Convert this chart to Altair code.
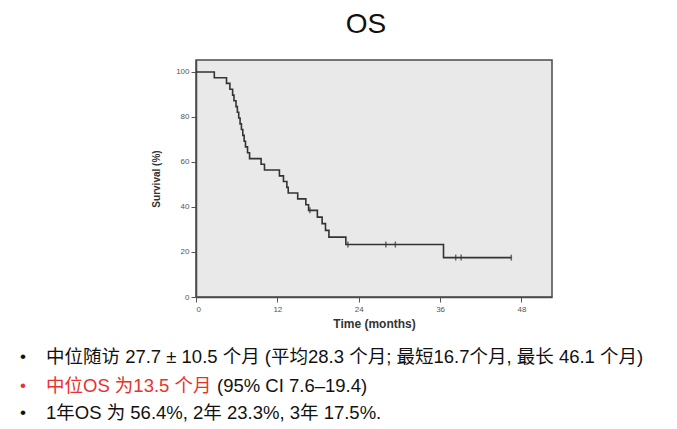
import altair as alt
import pandas as pd

# Kaplan-Meier step curve (months, survival %)
times = [0, 2.7, 4.5, 5.0, 5.4, 5.6, 5.9, 6.1, 6.3, 6.5, 6.7, 6.9, 7.1, 7.3, 7.6, 7.9,
         9.6, 10.1, 12.3, 12.9, 13.4, 13.6, 15.0, 16.2, 16.6, 17.9, 18.6, 19.1, 19.6,
         22.1, 36.5, 46.5]
surv = [100, 97.4, 94.9, 92.3, 89.7, 87.2, 84.6, 82.1, 79.5, 76.9, 74.4, 71.8, 69.2, 66.7, 64.1, 61.5,
        59.0, 56.4, 53.8, 51.3, 48.7, 46.2, 43.6, 41.0, 38.5, 35.5, 32.6, 29.6, 26.6,
        23.3, 17.5, 17.5]
# censored observations
cens_t = [16.8, 22.4, 28.0, 29.4, 38.3, 39.1, 46.5]
cens_s = [38.5, 23.3, 23.3, 23.3, 17.5, 17.5, 17.5]

x_ticks = [0, 12, 24, 36, 48]
y_ticks = [0, 20, 40, 60, 80, 100]

title_text = "OS"
bullet = "•"
line1 = "中位随访 27.7 ± 10.5 个月 (平均28.3 个月; 最短16.7个月, 最长 46.1 个月)"
line2_red = "中位OS 为13.5 个月"
line2_black = "(95% CI 7.6–19.4)"
line3 = "1年OS 为 56.4%, 2年 23.3%, 3年 17.5%."

FONT = "Liberation Sans, Arial, Noto Sans CJK SC"

df = pd.DataFrame({"t": times, "s": surv})
dc = pd.DataFrame({"t": cens_t, "s": cens_s})
one = pd.DataFrame({"a": [0]})

xs = alt.Scale(domain=[0, 52.5], nice=False, zero=False)
ys = alt.Scale(domain=[0, 105.3], nice=False, zero=False)

line = alt.Chart(df).mark_line(interpolate="step-after", color="#333333", strokeWidth=1.6).encode(
    x=alt.X("t:Q", scale=xs, axis=alt.Axis(values=x_ticks, title="Time (months)", grid=False,
                                           titleFontSize=12)),
    y=alt.Y("s:Q", scale=ys, axis=alt.Axis(values=y_ticks, title="Survival (%)", grid=False)),
)
cens = alt.Chart(dc).mark_tick(orient="vertical", color="#333333", size=6, thickness=1.5).encode(
    x=alt.X("t:Q", scale=xs), y=alt.Y("s:Q", scale=ys)
)

def txt(s, x, y, size, color="#111111", align="left"):
    return alt.Chart(one).mark_text(
        text=s, align=align, baseline="middle", fontSize=size, font=FONT, color=color
    ).encode(x=alt.value(x), y=alt.value(y))

texts = [
    txt(title_text, 170, -35, 28, align="center"),
    txt(bullet, -176, 297, 17),
    txt(line1, -150, 297, 18.5),
    txt(bullet, -176, 326, 17, color="#e8322c"),
    txt(line2_red, -150, 326, 18.5, color="#e8322c"),
    txt(line2_black, 21, 326, 18.5),
    txt(bullet, -176, 353, 17),
    txt(line3, -150, 353, 18.5),
]

chart = alt.layer(line, cens, *texts).properties(
    width=356, height=237,
    autosize=alt.AutoSizeParams(type="none"),
    padding={"left": 188, "top": 52, "right": 117, "bottom": 126},
    background="white",
).configure_view(
    fill="#e9e9e9", stroke="#4a4a4a", strokeWidth=1.5
).configure_axis(
    domainColor="#4a4a4a", domainWidth=1.5, tickColor="#555555", tickSize=5,
    labelColor="#555555", labelFontSize=8, labelFont=FONT,
    titleColor="#333333", titleFontSize=10, titleFont=FONT, titleFontWeight="bold",
).configure_axisY(titlePadding=14, labelPadding=2).configure_axisX(titlePadding=5, labelPadding=3)

chart.save("out.html", embed_options={"renderer": "svg", "actions": False})
